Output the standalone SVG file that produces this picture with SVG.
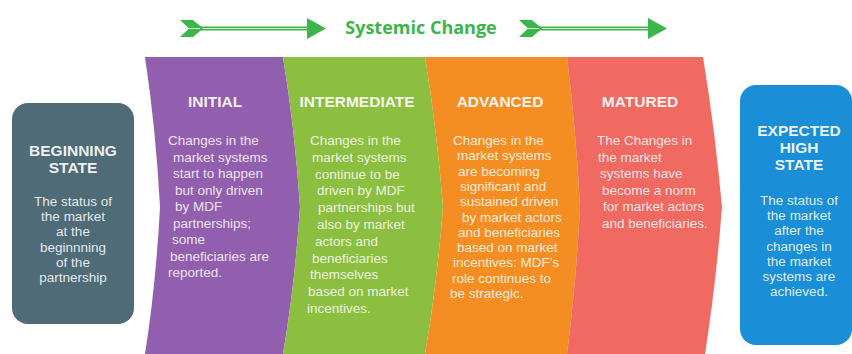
<svg xmlns="http://www.w3.org/2000/svg" width="852" height="354" viewBox="0 0 852 354">
<defs>
<style>
.hd{font-family:"Liberation Sans",Arial,sans-serif;font-weight:bold;font-size:15.5px;fill:#ffffff;fill-opacity:0.93;text-anchor:middle}
.bd{font-family:"Liberation Sans",Arial,sans-serif;font-size:13.5px;fill:#ffffff;fill-opacity:0.85}
.bc{font-family:"Liberation Sans",Arial,sans-serif;font-size:13.5px;fill:#ffffff;fill-opacity:0.88;text-anchor:middle}
.title{font-family:"Open Sans","Liberation Sans",sans-serif;font-weight:bold;font-size:18px;fill:#3cb54a;text-anchor:middle}
.ar{fill:#3cb54a}
.shaft{stroke:#3cb54a;stroke-width:4}
.core{stroke:#dff2df;stroke-width:1}
</style>
</defs>
<rect width="852" height="354" fill="#ffffff"/>
<g id="connectors">
  <g id="arrow-left">
    <line class="shaft" x1="196" y1="28.5" x2="309" y2="28.5"/>
    <line class="core" x1="182" y1="28.5" x2="309" y2="28.5"/>
    <polygon class="ar" points="180,20 193,20 203,28.5 193,37 180,37 189,28.5"/>
    <line class="core" x1="184" y1="28.5" x2="200" y2="28.5"/>
    <polygon class="ar" points="307,18 326,28.5 307,39"/>
  </g>
  <g id="arrow-right">
    <line class="shaft" x1="535" y1="28.5" x2="650" y2="28.5"/>
    <line class="core" x1="521" y1="28.5" x2="650" y2="28.5"/>
    <polygon class="ar" points="519,20 532,20 542,28.5 532,37 519,37 528,28.5"/>
    <line class="core" x1="523" y1="28.5" x2="539" y2="28.5"/>
    <polygon class="ar" points="648,18 667,28.5 648,39"/>
  </g>
</g>
<text class="title" x="421" y="34">Systemic Change</text>

<g id="initial">
  <path d="M145,57 L283,57 Q295,130 300,207 Q295,284 283,354 L145,354 Q156,284 160,207 Q156,130 145,57 Z" fill="#925fae"/>
  <text class="hd" x="215" y="107">INITIAL</text>
  <text class="bd" x="168" y="145">Changes in the</text>
  <text class="bd" x="173" y="161.5">market systems</text>
  <text class="bd" x="173" y="178">start to happen</text>
  <text class="bd" x="175" y="194.5">but only driven</text>
  <text class="bd" x="175" y="211">by MDF</text>
  <text class="bd" x="173" y="227.5">partnerships;</text>
  <text class="bd" x="172" y="244">some</text>
  <text class="bd" x="170" y="260.5">beneficiaries are</text>
  <text class="bd" x="168" y="277">reported.</text>
</g>

<g id="intermediate">
  <path d="M283,57 L425,57 Q437,130 443,207 Q437,284 425,354 L283,354 Q295,284 300,207 Q295,130 283,57 Z" fill="#8cbf3f"/>
  <text class="hd" x="357" y="107">INTERMEDIATE</text>
  <text class="bd" x="310" y="145">Changes in the</text>
  <text class="bd" x="312" y="161.8">market systems</text>
  <text class="bd" x="315" y="178.6">continue to be</text>
  <text class="bd" x="317" y="195.4">driven by MDF</text>
  <text class="bd" x="318" y="212.2">partnerships but</text>
  <text class="bd" x="317" y="229">also by market</text>
  <text class="bd" x="315" y="245.8">actors and</text>
  <text class="bd" x="312" y="262.6">beneficiaries</text>
  <text class="bd" x="310" y="279.4">themselves</text>
  <text class="bd" x="308" y="296.2">based on market</text>
  <text class="bd" x="307" y="313">incentives.</text>
</g>

<g id="advanced">
  <path d="M425,57 L567,57 Q576,130 580,207 Q576,284 567,354 L425,354 Q437,284 443,207 Q437,130 425,57 Z" fill="#f58e22"/>
  <text class="hd" x="500" y="107">ADVANCED</text>
  <text class="bd" x="453" y="145">Changes in the</text>
  <text class="bd" x="457" y="160.3">market systems</text>
  <text class="bd" x="458" y="175.6">are becoming</text>
  <text class="bd" x="460" y="190.9">significant and</text>
  <text class="bd" x="460" y="206.2">sustained driven</text>
  <text class="bd" x="462" y="221.5">by market actors</text>
  <text class="bd" x="458" y="236.8">and beneficiaries</text>
  <text class="bd" x="457" y="252.1">based on market</text>
  <text class="bd" x="453" y="267.4">incentives: MDF’s</text>
  <text class="bd" x="452" y="282.7">role continues to</text>
  <text class="bd" x="450" y="298">be strategic.</text>
</g>

<g id="matured">
  <path d="M567,57 L703,57 Q715,130 722,207 Q716,284 705,354 L567,354 Q576,284 580,207 Q576,130 567,57 Z" fill="#f06a62"/>
  <text class="hd" x="640" y="107">MATURED</text>
  <text class="bd" x="597" y="145">The Changes in</text>
  <text class="bd" x="598" y="161.6">the market</text>
  <text class="bd" x="600" y="178.2">systems have</text>
  <text class="bd" x="602" y="194.8">become a norm</text>
  <text class="bd" x="603" y="211.4">for market actors</text>
  <text class="bd" x="602" y="228">and beneficiaries.</text>
</g>

<g id="beginning-state">
  <rect x="12" y="103" width="122" height="221" rx="16" ry="16" fill="#4e6b77"/>
  <text class="hd" x="73" y="156">BEGINNING</text>
  <text class="hd" x="73" y="173">STATE</text>
  <text class="bc" x="73" y="206">The status of</text>
  <text class="bc" x="73" y="221.2">the market</text>
  <text class="bc" x="73" y="236.4">at the</text>
  <text class="bc" x="73" y="251.6">beginnning</text>
  <text class="bc" x="73" y="266.8">of the</text>
  <text class="bc" x="73" y="282">partnership</text>
</g>

<g id="expected-high-state">
  <rect x="740" y="85" width="112" height="260" rx="16" ry="16" fill="#1a8ed6"/>
  <text class="hd" x="799" y="136">EXPECTED</text>
  <text class="hd" x="799" y="153">HIGH</text>
  <text class="hd" x="799" y="170">STATE</text>
  <text class="bc" x="799" y="205">The status of</text>
  <text class="bc" x="799" y="220.2">the market</text>
  <text class="bc" x="799" y="235.4">after the</text>
  <text class="bc" x="799" y="250.6">changes in</text>
  <text class="bc" x="799" y="265.8">the market</text>
  <text class="bc" x="799" y="281">systems are</text>
  <text class="bc" x="799" y="296.2">achieved.</text>
</g>
</svg>
